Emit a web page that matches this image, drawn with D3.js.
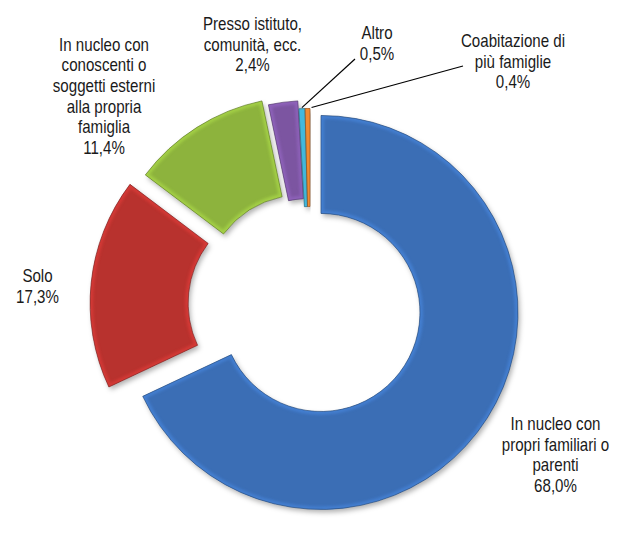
<!DOCTYPE html>
<html>
<head>
<meta charset="utf-8">
<script src="https://cdn.jsdelivr.net/npm/d3@7"></script>
<style>
  html, body { margin: 0; padding: 0; background: #fff; }
  svg { display: block; }
  text { font-family: "Liberation Sans", Arial, sans-serif; fill: #1a1a1a; }
</style>
</head>
<body>
<svg id="chart" width="626" height="533"></svg>
<script>
// ---- data ----
const categories = [
  "In nucleo con propri familiari o parenti",
  "Solo",
  "In nucleo con conoscenti o soggetti esterni alla propria famiglia",
  "Presso istituto, comunità, ecc.",
  "Altro",
  "Coabitazione di più famiglie"
];
const values = [68.0, 17.3, 11.4, 2.4, 0.5, 0.4];
const labelLines = [
  ["In nucleo con", "propri familiari o", "parenti"],
  ["Solo"],
  ["In nucleo con", "conoscenti o", "soggetti esterni", "alla propria", "famiglia"],
  ["Presso istituto,", "comunità, ecc."],
  ["Altro"],
  ["Coabitazione di", "più famiglie"]
];

// ---- style / layout ----
const colors = ["#3b6eb5", "#b8322f", "#8db33d", "#7b55a1", "#3aa0bf", "#e0782a"];
const explode = [13, 23, 14, 8, 0, 0];
const labelAnchor = [[555.5, 430], [37.5, 282.3], [104, 50.5], [252.5, 30], [377, 39.3], [513, 47]];
const leaderStart = [null, null, null, null, [355, 59], [463, 66]];
const cx = 310, cy = 305.5, R = 197, r = 99;
const fontSize = 18, lineGap = 20.7, squeeze = 0.84;

const locale = d3.formatLocale({decimal: ",", thousands: ".", grouping: [3], currency: ["", "€"]});
const fmt = v => locale.format(".1f")(v) + "%";

const svg = d3.select("#chart");
const defs = svg.append("defs");
const shadow = defs.append("filter").attr("id", "shadow")
  .attr("x", "-20%").attr("y", "-20%").attr("width", "140%").attr("height", "140%");
shadow.append("feDropShadow").attr("dx", 2).attr("dy", 3).attr("stdDeviation", 2.5)
  .attr("flood-color", "#000").attr("flood-opacity", 0.3);
const soft = defs.append("filter").attr("id", "soft");
soft.append("feGaussianBlur").attr("stdDeviation", 1.8);

const pie = d3.pie().sort(null).startAngle(0).endAngle(2 * Math.PI);
const arcs = pie(values);
const arc = d3.arc().innerRadius(r).outerRadius(R);

const g = svg.append("g").attr("transform", `translate(${cx},${cy})`);

arcs.forEach((a, i) => {
  const mid = (a.startAngle + a.endAngle) / 2;
  const dx = explode[i] * Math.sin(mid), dy = -explode[i] * Math.cos(mid);
  const sg = g.append("g").attr("transform", `translate(${dx},${dy})`);
  const path = arc(a);
  defs.append("clipPath").attr("id", "clip" + i)
    .append("path").attr("d", path).attr("transform", `translate(${cx + dx},${cy + dy})`);
  sg.append("path").attr("d", path).attr("fill", colors[i]).attr("filter", "url(#shadow)");
  // soft bevel highlight along the edges
  const hl = svg.append("g").attr("clip-path", `url(#clip${i})`);
  hl.append("path").attr("d", path)
    .attr("transform", `translate(${cx + dx},${cy + dy})`)
    .attr("fill", "none")
    .attr("stroke", d3.color(colors[i]).brighter(0.7))
    .attr("stroke-width", 6)
    .attr("opacity", 0.55)
    .attr("filter", "url(#soft)");
  svg.append("path").attr("d", path)
    .attr("transform", `translate(${cx + dx},${cy + dy})`)
    .attr("fill", "none")
    .attr("stroke", d3.color(colors[i]).darker(1.2))
    .attr("stroke-width", 0.8)
    .attr("stroke-opacity", 0.8);
});

// leader lines
arcs.forEach((a, i) => {
  if (!leaderStart[i]) return;
  const mid = (a.startAngle + a.endAngle) / 2;
  const ex = cx + (R + 1) * Math.sin(mid) + (i === 5 ? 4 : 0);
  const ey = cy - (R + 1) * Math.cos(mid);
  svg.append("line")
    .attr("x1", leaderStart[i][0]).attr("y1", leaderStart[i][1])
    .attr("x2", ex).attr("y2", ey)
    .attr("stroke", "#000").attr("stroke-width", 1.2);
});

// labels
arcs.forEach((a, i) => {
  const lines = labelLines[i].concat([fmt(values[i])]);
  const lg = svg.append("g")
    .attr("transform", `translate(${labelAnchor[i][0]},${labelAnchor[i][1]}) scale(${squeeze},1)`);
  const t = lg.append("text").attr("text-anchor", "middle").attr("font-size", fontSize);
  lines.forEach((s, k) => {
    t.append("tspan").attr("x", 0).attr("y", k * lineGap).text(s);
  });
});
</script>
</body>
</html>
